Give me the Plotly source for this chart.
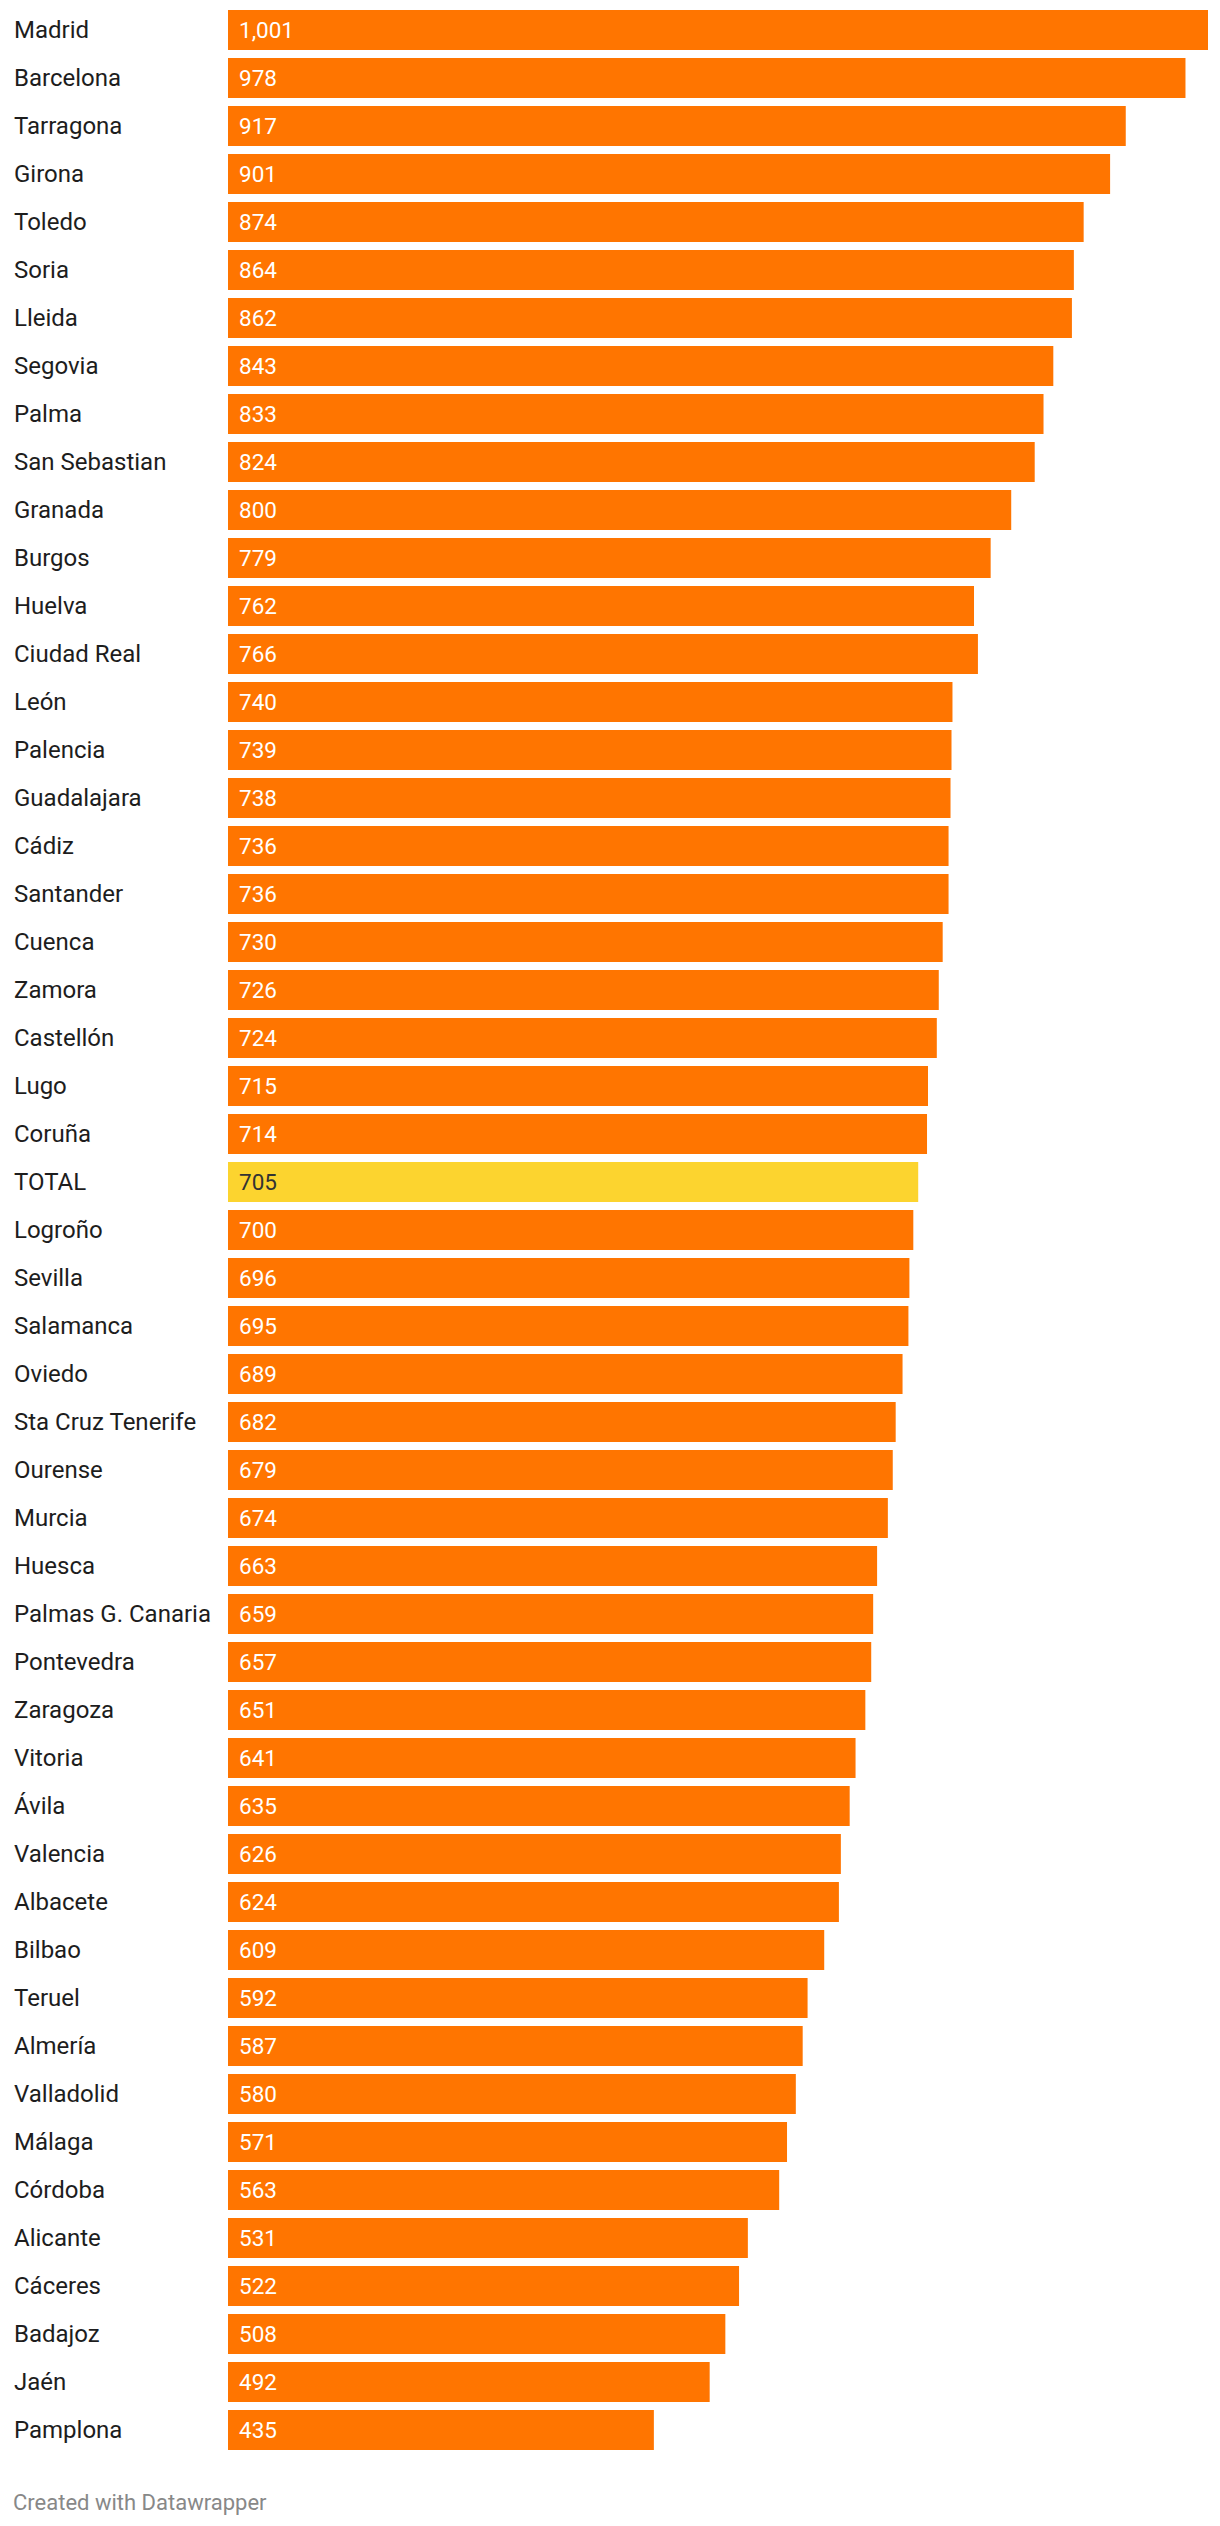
import plotly.graph_objects as go

cities = ["Madrid", "Barcelona", "Tarragona", "Girona", "Toledo", "Soria", "Lleida", "Segovia",
          "Palma", "San Sebastian", "Granada", "Burgos", "Huelva", "Ciudad Real", "León", "Palencia",
          "Guadalajara", "Cádiz", "Santander", "Cuenca", "Zamora", "Castellón", "Lugo", "Coruña",
          "TOTAL", "Logroño", "Sevilla", "Salamanca", "Oviedo", "Sta Cruz Tenerife", "Ourense",
          "Murcia", "Huesca", "Palmas G. Canaria", "Pontevedra", "Zaragoza", "Vitoria", "Ávila",
          "Valencia", "Albacete", "Bilbao", "Teruel", "Almería", "Valladolid", "Málaga", "Córdoba",
          "Alicante", "Cáceres", "Badajoz", "Jaén", "Pamplona"]
values = [1001, 978, 917, 901, 874, 864, 862, 843, 833, 824, 800, 779, 762, 766, 740, 739,
          738, 736, 736, 730, 726, 724, 715, 714, 705, 700, 696, 695, 689, 682, 679,
          674, 663, 659, 657, 651, 641, 635, 626, 624, 609, 592, 587, 580, 571, 563,
          531, 522, 508, 492, 435]
highlight = "TOTAL"

ORANGE = "#ff7500"
YELLOW = "#fcd42f"

# page body has an 8px default margin; figure is placed at (8, 8)
OFF = 8
W, H = 1220 - 2 * OFF, 2526 - 2 * OFF
PLOT_L, PLOT_R, PLOT_T, PLOT_B = 228, 1208, 8, 2454   # page coords of plot area
L = PLOT_L - OFF
R = (OFF + W) - PLOT_R
T = PLOT_T - OFF
B = (OFF + H) - PLOT_B
plot_w = PLOT_R - PLOT_L
plot_h = PLOT_B - PLOT_T
ROW = 48
n = len(cities)
top_edge = -0.5 + (PLOT_T - 6) / ROW

colors = [YELLOW if c == highlight else ORANGE for c in cities]

fig = go.Figure(go.Bar(
    x=values, y=cities, orientation="h",
    marker=dict(color=colors, line=dict(width=0)),
    hoverinfo="skip",
))

annotations = []
for c, v in zip(cities, values):
    annotations.append(dict(
        x=(12 - PLOT_L) / plot_w, xref="paper", y=c, yref="y",
        text=c, showarrow=False, xanchor="left", yanchor="middle",
        font=dict(family="Roboto", size=24, color="#1d1d1d"),
    ))
    annotations.append(dict(
        x=0, xref="x", y=c, yref="y", xshift=9,
        text=f"{v:,}", showarrow=False, xanchor="left", yanchor="middle",
        font=dict(family="Roboto", size=22.5,
                  color="#333333" if c == highlight else "#ffffff"),
    ))
annotations.append(dict(
    x=(11 - PLOT_L) / plot_w, xref="paper", y=-(2502 - PLOT_B) / plot_h, yref="paper",
    text="Created with Datawrapper", showarrow=False, xanchor="left", yanchor="middle",
    font=dict(family="Roboto", size=22, color="#888888"),
))

fig.update_layout(
    width=W, height=H, autosize=False,
    margin=dict(l=L, r=R, t=T, b=B, pad=0),
    paper_bgcolor="white", plot_bgcolor="white",
    bargap=8 / 48,
    showlegend=False,
    xaxis=dict(range=[0, 1001], visible=False, showgrid=False, zeroline=False, fixedrange=True),
    yaxis=dict(range=[n - 0.5, top_edge], visible=False, showgrid=False, fixedrange=True,
               categoryorder="array", categoryarray=cities),
    annotations=annotations,
)

fig.write_html("out.html")
